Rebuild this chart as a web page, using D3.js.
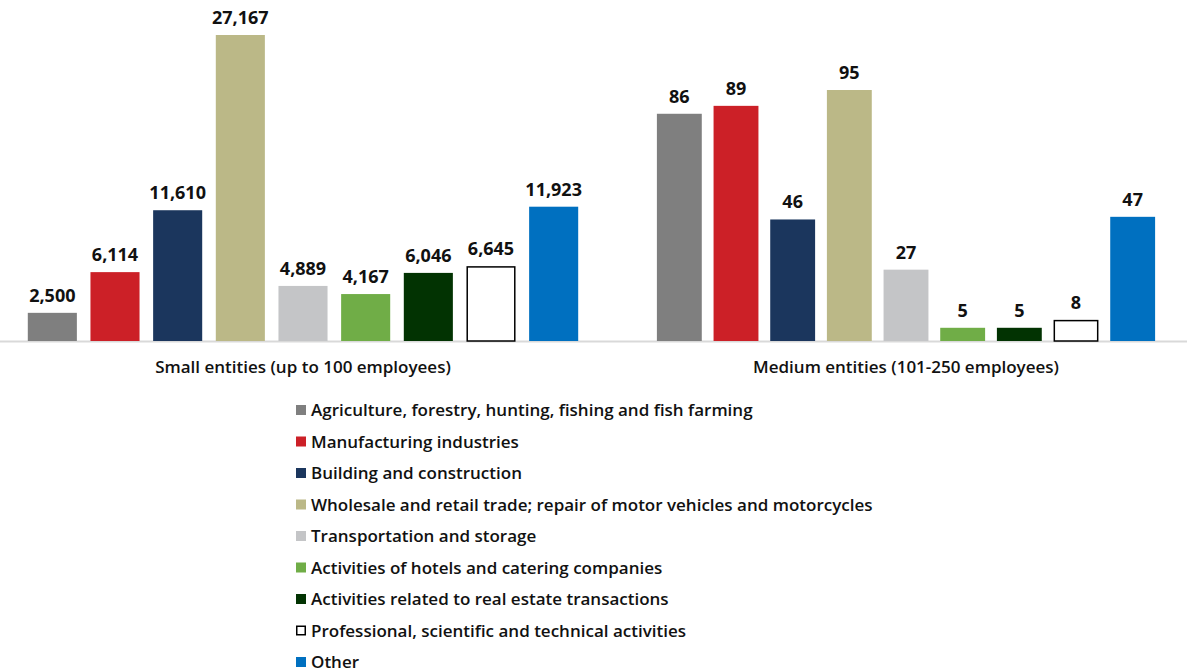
<!DOCTYPE html>
<html>
<head>
<meta charset="utf-8">
<script src="https://cdn.jsdelivr.net/npm/d3@7"></script>
<style>
  html, body { margin: 0; padding: 0; background: #fff; }
  svg { display: block; }
  text { font-family: "Open Sans", Lato, sans-serif; fill: #111; }
</style>
</head>
<body>
<svg id="chart" width="1187" height="672"></svg>
<script>
// ---- data ----
const categories = [
  "Agriculture, forestry, hunting, fishing and fish farming",
  "Manufacturing industries",
  "Building and construction",
  "Wholesale and retail trade; repair of motor vehicles and motorcycles",
  "Transportation and storage",
  "Activities of hotels and catering companies",
  "Activities related to real estate transactions",
  "Professional, scientific and technical activities",
  "Other"
];
const groups = ["Small entities (up to 100 employees)", "Medium entities (101-250 employees)"];
const smallValues = [2500, 6114, 11610, 27167, 4889, 4167, 6046, 6645, 11923];
const mediumValues = [86, 89, 46, 95, 27, 5, 5, 8, 47];
const colors = ["#7f7f7f", "#cc2027", "#1b365d", "#bbb887", "#c4c5c7", "#70ad47", "#023302", "#ffffff", "#0070c0"];

const svg = d3.select("#chart");
const baseY = 341;
const fmt = d3.format(",");

const panels = [
  { label: groups[0], values: smallValues, range: [21, 585], top: 35, pad: 0.217 },
  { label: groups[1], values: mediumValues, range: [651, 1161], top: 90, pad: 0.208 }
];

// baseline axis
svg.append("line")
  .attr("x1", 0).attr("x2", 1187)
  .attr("y1", baseY + 0.5).attr("y2", baseY + 0.5)
  .attr("stroke", "#d9d9d9").attr("stroke-width", 2);

panels.forEach(p => {
  const x = d3.scaleBand().domain(categories).range(p.range)
    .paddingInner(p.pad).paddingOuter(p.pad / 2);
  const maxV = d3.max(p.values);
  const y = d3.scaleLinear().domain([0, maxV]).range([baseY, p.top]);
  const g = svg.append("g");
  const data = categories.map((c, i) => ({ c, v: p.values[i], i }));

  g.selectAll("rect").data(data).join("rect")
    .attr("x", d => x(d.c) + (d.i === 7 ? 0.75 : 0))
    .attr("width", d => x.bandwidth() - (d.i === 7 ? 1.5 : 0))
    .attr("y", d => y(d.v) + (d.i === 7 ? 0.75 : 0))
    .attr("height", d => baseY - y(d.v) - (d.i === 7 ? 0.75 : 0))
    .attr("fill", d => colors[d.i])
    .attr("stroke", d => d.i === 7 ? "#000" : "none")
    .attr("stroke-width", 1.5);

  g.selectAll("text.val").data(data).join("text")
    .attr("class", "val")
    .attr("x", d => x(d.c) + x.bandwidth() / 2)
    .attr("y", d => y(d.v) - 11)
    .attr("text-anchor", "middle")
    .attr("font-size", 18)
    .attr("font-weight", 700)
    .text(d => fmt(d.v));

  g.append("text")
    .attr("x", (p.range[0] + p.range[1]) / 2)
    .attr("y", 373)
    .attr("text-anchor", "middle")
    .attr("font-size", 17)
    .attr("font-weight", 600)
    .text(p.label);
});

// legend
const legend = svg.append("g");
const ly = d3.scalePoint().domain(categories).range([410, 662]);
categories.forEach((c, i) => {
  const cy = ly(c);
  legend.append("rect")
    .attr("x", i === 7 ? 296.75 : 296).attr("y", cy - 5 + (i === 7 ? 0.75 : 0))
    .attr("width", i === 7 ? 8.5 : 10).attr("height", i === 7 ? 8.5 : 10)
    .attr("fill", colors[i])
    .attr("stroke", i === 7 ? "#000" : "none").attr("stroke-width", 1.5);
  legend.append("text")
    .attr("x", 311).attr("y", cy + 6)
    .attr("font-size", 17)
    .attr("font-weight", 600)
    .text(c);
});
</script>
</body>
</html>
